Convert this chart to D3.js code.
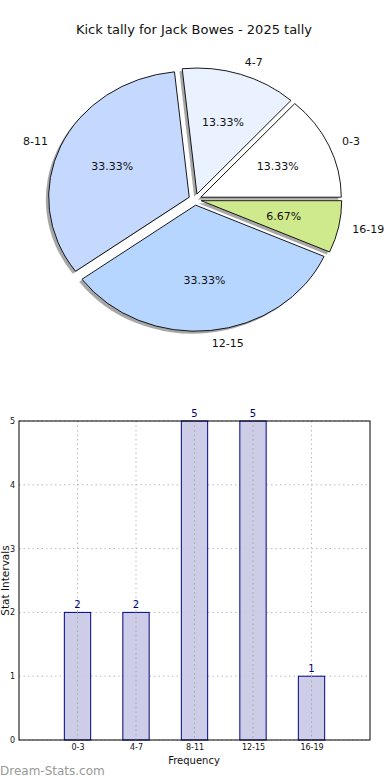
<!DOCTYPE html>
<html><head><meta charset="utf-8">
<script src="https://cdn.jsdelivr.net/npm/d3@7"></script>
<style>body{margin:0;background:#fff}svg{display:block;font-family:"DejaVu Sans",sans-serif}</style>
</head><body><svg id="c" width="390" height="780"></svg>
<script>
const title = "Kick tally for Jack Bowes - 2025 tally";
const categories = ["0-3","4-7","8-11","12-15","16-19"];
const counts = [2,2,5,5,1];
const pieColors = ["#ffffff","#eaf1ff","#c5d9ff","#b6d6ff","#cfea8c"];
const yTicks = [0,1,2,3,4,5];
const yLabel = "Stat Intervals";
const xLabel = "Frequency";
const watermark = "Dream-Stats.com";

const svg = d3.select("#c");
svg.append("text").attr("x",194).attr("y",34).attr("text-anchor","middle")
  .attr("font-size",13).attr("fill","#111").text(title);

// ---- Pie (elliptical, matplotlib style: CCW from 0°) ----
const cx = 195, cy = 199.5, rx = 140.5, ry = 126, explode = 0.045;
const total = d3.sum(counts);
const pie = d3.pie().sort(null).value(d=>d)
  .startAngle(Math.PI/2).endAngle(Math.PI/2 - 2*Math.PI);
const arcs = pie(counts);
const arcGen = d3.arc().innerRadius(0).outerRadius(1);
const pg = svg.append("g");
function mid(a){ const m = (a.startAngle + a.endAngle)/2; return Math.PI/2 - m; }
function norm(a){ return {startAngle:Math.min(a.startAngle,a.endAngle),endAngle:Math.max(a.startAngle,a.endAngle)}; }
arcs.forEach((a,i)=>{
  const t = mid(a);
  const ox = cx + explode*rx*Math.cos(t) - 0.02*rx;
  const oy = cy - explode*ry*Math.sin(t) + 0.02*ry;
  pg.append("path").attr("d",arcGen(norm(a)))
    .attr("transform",`translate(${ox},${oy}) scale(${rx},${ry})`)
    .attr("fill","#8a8a8a").attr("opacity",0.75);
});
arcs.forEach((a,i)=>{
  const t = mid(a);
  const ox = cx + explode*rx*Math.cos(t);
  const oy = cy - explode*ry*Math.sin(t);
  pg.append("path").attr("d",arcGen(norm(a)))
    .attr("transform",`translate(${ox},${oy}) scale(${rx},${ry})`)
    .attr("fill",pieColors[i]).attr("stroke","#000").attr("stroke-width",0.9)
    .attr("vector-effect","non-scaling-stroke");
  const lx = cx + (1.1+explode)*rx*Math.cos(t);
  const ly = cy - (1.1+explode)*ry*Math.sin(t);
  pg.append("text").attr("x",lx).attr("y",ly).attr("dy","0.35em")
    .attr("text-anchor", Math.cos(t)>0 ? "start" : "end")
    .attr("font-size",11).attr("fill","#111").text(categories[i]);
  const px = cx + (0.6+explode)*rx*Math.cos(t);
  const py = cy - (0.6+explode)*ry*Math.sin(t);
  pg.append("text").attr("x",px).attr("y",py).attr("dy","0.35em")
    .attr("text-anchor","middle").attr("font-size",11).attr("fill","#111")
    .text((counts[i]/total*100).toFixed(2)+"%");
});

// ---- Bar chart ----
const L=19, R=370, T=421, B=740;
const x = d3.scaleLinear().domain([-1,5]).range([L,R]);
const y = d3.scaleLinear().domain([0,5]).range([B,T]);
const bg = svg.append("g");
const grid = bg.append("g").attr("stroke","#bbb").attr("stroke-width",1).attr("stroke-dasharray","1.5,3");
yTicks.forEach(v=>grid.append("line").attr("x1",L).attr("x2",R).attr("y1",y(v)).attr("y2",y(v)));
categories.forEach((c,i)=>grid.append("line").attr("x1",x(i)).attr("x2",x(i)).attr("y1",T).attr("y2",B));
const bw = x(0.45)-x(0);
categories.forEach((c,i)=>{
  bg.append("rect").attr("x",x(i)-bw/2).attr("y",y(counts[i])).attr("width",bw).attr("height",B-y(counts[i]))
    .attr("fill","#c8c8e4").attr("fill-opacity",0.9).attr("stroke","#00008b").attr("stroke-width",1);
  bg.append("text").attr("x",x(i)).attr("y",y(counts[i])-4).attr("text-anchor","middle")
    .attr("font-size",10).attr("fill","#00007a").text(counts[i]);
});
const grid2 = bg.append("g").attr("stroke","#aaa").attr("stroke-width",1).attr("stroke-dasharray","1.5,3");
categories.forEach((c,i)=>grid2.append("line").attr("x1",x(i)).attr("x2",x(i)).attr("y1",y(counts[i])).attr("y2",B));
bg.append("rect").attr("x",L).attr("y",T).attr("width",R-L).attr("height",B-T)
  .attr("fill","none").attr("stroke","#000").attr("stroke-width",1);
const yAxis = d3.axisLeft(y).tickValues(yTicks).tickFormat(d3.format("d")).tickSize(0).tickPadding(4);
const ya = bg.append("g").attr("transform",`translate(${L},0)`).call(yAxis);
ya.select(".domain").remove();
ya.selectAll("text").attr("font-size",8).attr("fill","#111").attr("font-family","DejaVu Sans");
const xAxis = d3.axisBottom(x).tickValues(d3.range(categories.length)).tickFormat(i=>categories[i]).tickSize(0).tickPadding(4);
const xa = bg.append("g").attr("transform",`translate(0,${B})`).call(xAxis);
xa.select(".domain").remove();
xa.selectAll("text").attr("font-size",8).attr("fill","#111").attr("font-family","DejaVu Sans");
svg.append("text").attr("x",194).attr("y",764).attr("text-anchor","middle").attr("font-size",10).attr("fill","#111").text(xLabel);
svg.append("text").attr("transform",`translate(9,${(T+B)/2}) rotate(-90)`).attr("text-anchor","middle")
  .attr("font-size",10.5).attr("fill","#111").text(yLabel);
svg.append("text").attr("x",0).attr("y",775).attr("font-size",12).attr("fill","#999").text(watermark);
</script></body></html>
